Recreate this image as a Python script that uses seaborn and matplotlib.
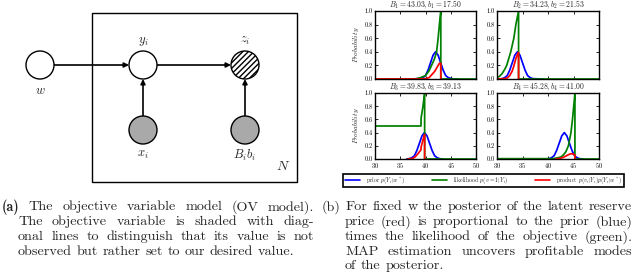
import matplotlib

matplotlib.use("Agg")
import matplotlib.pyplot as plt
import pandas as pd
import seaborn as sns
from matplotlib.lines import Line2D
from matplotlib.patches import Circle, FancyArrowPatch, Rectangle

# ---- data ------------------------------------------------------------------
titles = [
    r"$B_1 = 43.03, b_1 = 17.50$",
    r"$B_2 = 34.23, b_2 = 21.53$",
    r"$B_3 = 39.83, b_3 = 39.13$",
    r"$B_4 = 45.28, b_4 = 41.00$",
]

prior_x = [
    [37.0, 38.5, 39.5, 40.0, 40.5, 41.0, 41.5, 42.0, 42.5, 43.0, 43.5, 44.0, 44.5, 45.5, 46.3],
    [30.5, 31.0, 31.5, 32.0, 32.5, 33.0, 33.5, 34.0, 34.5, 35.0, 35.5, 36.0, 36.5, 37.0, 39.0],
    [36.3, 36.8, 37.3, 37.8, 38.3, 38.8, 39.3, 39.8, 40.3, 40.8, 41.3, 41.8, 42.3, 42.8, 43.3],
    [39.7, 40.2, 40.7, 41.2, 41.7, 42.2, 42.7, 43.2, 43.7, 44.2, 44.7, 45.2, 45.7, 46.2, 47.0],
]
prior_y = [
    [0.0, 0.005, 0.02, 0.05, 0.13, 0.24, 0.35, 0.40, 0.35, 0.24, 0.13, 0.05, 0.02, 0.0, 0.0],
    [0.0, 0.005, 0.02, 0.05, 0.13, 0.24, 0.35, 0.40, 0.35, 0.24, 0.13, 0.05, 0.02, 0.005, 0.0],
    [0.0, 0.005, 0.02, 0.05, 0.13, 0.24, 0.35, 0.40, 0.35, 0.24, 0.13, 0.05, 0.02, 0.005, 0.0],
    [0.0, 0.005, 0.02, 0.05, 0.13, 0.24, 0.35, 0.40, 0.35, 0.24, 0.13, 0.05, 0.02, 0.005, 0.0],
]

like_x = [
    [30.0, 38.0, 39.0, 40.0, 40.7, 41.2, 41.8, 42.2, 42.5, 42.75, 43.03, 43.03, 50.0],
    [30.0, 30.5, 31.0, 31.5, 31.9, 32.3, 32.7, 33.3, 33.7, 34.23, 34.23, 50.0],
    [30.0, 39.1, 39.13, 39.5, 39.83, 39.83, 50.0],
    [30.0, 41.0, 42.0, 42.5, 43.0, 43.5, 44.0, 44.5, 44.8, 45.05, 45.28, 45.28, 50.0],
]
like_y = [
    [0.0, 0.0, 0.02, 0.05, 0.12, 0.2, 0.3, 0.4, 0.6, 0.8, 1.0, 0.0, 0.0],
    [0.02, 0.04, 0.08, 0.14, 0.2, 0.3, 0.4, 0.6, 0.8, 1.0, 0.0, 0.0],
    [0.5, 0.5, 0.62, 0.8, 1.0, 0.0, 0.0],
    [0.005, 0.005, 0.02, 0.03, 0.06, 0.11, 0.2, 0.4, 0.6, 0.8, 1.0, 0.0, 0.0],
]

prod_x = [
    [30.0, 39.0, 40.0, 40.7, 41.2, 41.8, 42.2, 42.5, 42.75, 43.03, 43.03],
    [30.0, 31.5, 32.0, 32.5, 33.0, 33.3, 33.7, 34.0, 34.23, 34.23],
    [36.5, 37.5, 38.0, 38.5, 39.1, 39.13, 39.5, 39.83, 39.83],
    [41.5, 42.0, 42.5, 43.0, 43.5, 44.0, 44.5, 44.8, 45.05, 45.28, 45.28],
]
prod_y = [
    [0.0, 0.0, 0.005, 0.02, 0.06, 0.11, 0.16, 0.2, 0.23, 0.23, 0.0],
    [0.0, 0.005, 0.015, 0.05, 0.12, 0.19, 0.3, 0.36, 0.39, 0.0],
    [0.0, 0.01, 0.035, 0.08, 0.14, 0.18, 0.29, 0.37, 0.0],
    [0.0, 0.005, 0.012, 0.025, 0.045, 0.065, 0.08, 0.078, 0.07, 0.06, 0.0],
]

curve_names = ["prior", "likelihood", "product"]
curve_colors = ["#0000ff", "#008000", "#ff0000"]
legend_labels = [
    r"prior $p(Y_i|w^*)$",
    r"likelihood $p(v=1|Y_i)$",
    r"product $p(v_i|Y_i)p(Y_i|w^*)$",
]
x_ticks = [30, 35, 40, 45, 50]
y_ticks = [0.0, 0.2, 0.4, 0.6, 0.8, 1.0]

caption_a = [
    "(a) The objective variable model (OV model).",
    "The objective variable is shaded with diag-",
    "onal lines to distinguish that its value is not",
    "observed but rather set to our desired value.",
]
caption_b = [
    "(b) For fixed w the posterior of the latent reserve",
    "price (red) is proportional to the prior (blue)",
    "times the likelihood of the objective (green).",
    "MAP estimation uncovers profitable modes",
    "of the posterior.",
]

# ---- style -----------------------------------------------------------------
sns.set_style("ticks")
plt.rcParams.update(
    {
        "mathtext.fontset": "cm",
        "font.family": ["cmr10", "DejaVu Serif"],
        "axes.formatter.use_mathtext": True,
        "axes.edgecolor": "black",
        "axes.linewidth": 1.0,
        "xtick.direction": "in",
        "ytick.direction": "in",
        "xtick.top": True,
        "ytick.right": True,
        "xtick.major.size": 2.5,
        "ytick.major.size": 2.5,
        "xtick.major.width": 0.6,
        "ytick.major.width": 0.6,
        "xtick.major.pad": 1.5,
        "ytick.major.pad": 1.5,
        "xtick.color": "black",
        "ytick.color": "black",
    }
)

W, H = 640, 273
fig = plt.figure(figsize=(W / 100, H / 100), dpi=100)

# overlay axes in pixel coordinates for the diagram and captions
base = fig.add_axes([0, 0, 1, 1])
base.set_xlim(0, W)
base.set_ylim(H, 0)
base.axis("off")

# ---- (a) graphical model ---------------------------------------------------
base.add_patch(Rectangle((92, 13), 205, 169, fill=False, lw=1.0, ec="black"))
r = 14
nodes = {
    "w": (40, 65, "white", None),
    "y": (143, 65, "white", None),
    "z": (245, 65, "white", "//////"),
    "x": (143, 130, "#a9a9a9", None),
    "B": (245, 130, "#a9a9a9", None),
}
for cx, cy, fc, hatch in nodes.values():
    base.add_patch(Circle((cx, cy), r, fc=fc, ec="black", lw=1.0, hatch=hatch, zorder=3))
for (x0, y0), (x1, y1) in [
    ((54, 65), (129, 65)),
    ((157, 65), (231, 65)),
    ((143, 116), (143, 79)),
    ((245, 116), (245, 79)),
]:
    base.add_patch(
        FancyArrowPatch(
            (x0, y0), (x1, y1), arrowstyle="-|>", mutation_scale=7,
            lw=1.2, color="black", shrinkA=0, shrinkB=0, zorder=2,
        )
    )
lab = dict(ha="center", va="center", fontsize=9)
base.text(143, 41, r"$y_i$", **lab)
base.text(245, 41, r"$z_i$", **lab)
base.text(40, 91, r"$w$", **lab)
base.text(143, 155, r"$x_i$", **lab)
base.text(245, 155, r"$B_i b_i$", **lab)
base.text(283, 166, r"$N$", ha="center", va="center", fontsize=10)

# ---- captions, justified word by word --------------------------------------
renderer = fig.canvas.get_renderer()
cap_size = 10.2


def put_line(line, x0, x1, y, justify, bold_first=False):
    words = line.split(" ")
    texts = []
    for k, w in enumerate(words):
        fam = "cmb10" if (bold_first and k == 0) else "cmr10"
        texts.append(base.text(0, y, w, fontsize=cap_size, family=fam, va="center", ha="left"))
    widths = [t.get_window_extent(renderer).width for t in texts]
    if justify and len(words) > 1:
        gap = (x1 - x0 - sum(widths)) / (len(words) - 1)
    else:
        gap = cap_size * 100 / 72 * 0.333
    x = x0
    for t, wd in zip(texts, widths):
        t.set_x(x)
        x += wd + gap


ys = [207, 222, 237, 252, 266]
for i, line in enumerate(caption_a):
    x0 = 2 if i == 0 else 18
    put_line(line, x0, 314, ys[i], justify=i < len(caption_a) - 1, bold_first=i == 0)
for i, line in enumerate(caption_b):
    x0 = 322 if i == 0 else 345
    put_line(line, x0, 632, ys[i], justify=i < len(caption_b) - 1)

# ---- (b) four small panels -------------------------------------------------
boxes = [(375, 11, 101, 68), (497, 11, 102, 68), (375, 93, 101, 66), (497, 93, 102, 66)]
palette = dict(zip(curve_names, curve_colors))
for i, (px, py, pw, ph) in enumerate(boxes):
    ax = fig.add_axes([px / W, 1 - (py + ph) / H, pw / W, ph / H])
    frame = pd.concat(
        [
            pd.DataFrame({"x": prior_x[i], "p": prior_y[i], "curve": "prior"}),
            pd.DataFrame({"x": like_x[i], "p": like_y[i], "curve": "likelihood"}),
            pd.DataFrame({"x": prod_x[i], "p": prod_y[i], "curve": "product"}),
        ],
        ignore_index=True,
    )
    sns.lineplot(
        data=frame, x="x", y="p", hue="curve", hue_order=curve_names,
        palette=palette, sort=False, estimator=None, linewidth=1.25,
        legend=False, ax=ax,
    )
    ax.set_xlim(30, 50)
    ax.set_ylim(0, 1)
    ax.set_xticks(x_ticks)
    ax.set_yticks(y_ticks)
    ax.set_yticklabels([f"{v:.1f}" for v in y_ticks])
    ax.tick_params(labelsize=4.6)
    if i < 2:
        ax.set_xticklabels([])
    ax.set_xlabel("")
    ax.set_ylabel(r"$Probability$" if i % 2 == 0 else "", fontsize=5.2, labelpad=2.5)
    ax.set_title(titles[i], fontsize=5.5, pad=1.0)
    for s in ax.spines.values():
        s.set_visible(True)
        s.set_linewidth(1.0)

handles = [Line2D([], [], color=c, lw=1.2) for c in curve_colors]
leg = fig.legend(
    handles, legend_labels, loc="center", ncol=3,
    bbox_to_anchor=(483.5 / W, 1 - 180.5 / H), fontsize=4.3,
    frameon=True, fancybox=False, edgecolor="black", framealpha=1,
    borderpad=0.25, handlelength=2.5, handletextpad=1.0, columnspacing=4.5,
    borderaxespad=0,
)
leg.get_frame().set_linewidth(1.2)

fig.savefig("out.png", dpi=100)
